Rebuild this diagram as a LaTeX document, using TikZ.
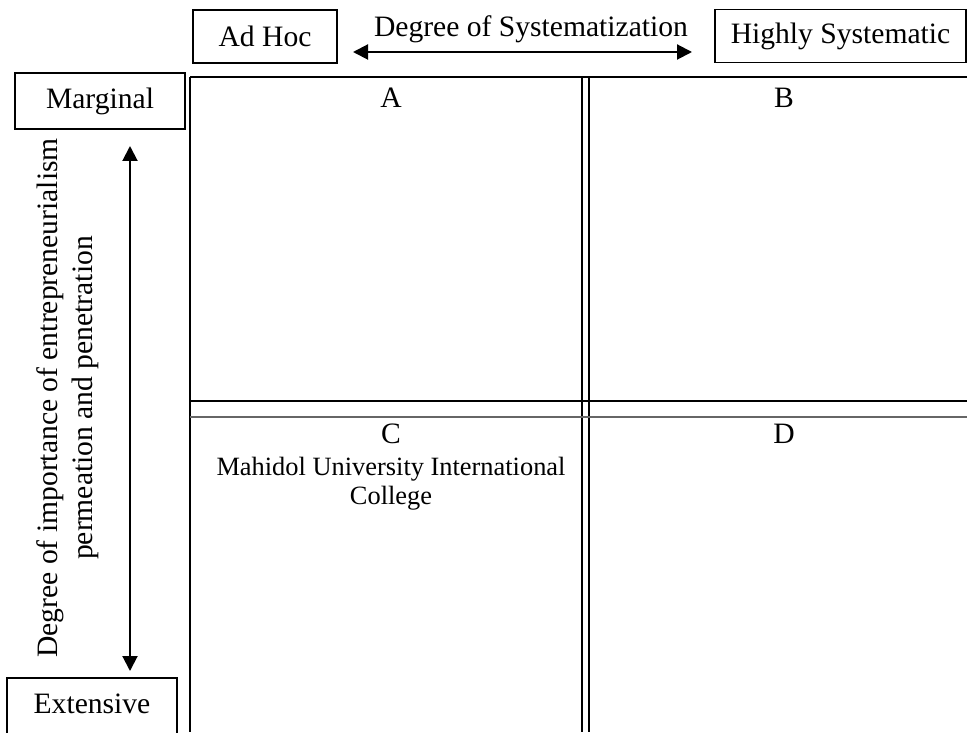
\documentclass[tikz,border=0pt]{standalone}
\usepackage{fontspec}
\setmainfont{Liberation Serif}
\usetikzlibrary{arrows.meta}

\begin{document}
\begin{tikzpicture}[x=0.5pt,y=-0.5pt,
		every node/.style={font=\fontsize{14.8}{14.5}\selectfont},
		endbox/.style={draw,line width=.65pt,inner sep=0pt,minimum height=#1},
		endbox/.default=26.5pt,
		axisarrow/.style={line width=1pt,{Triangle[length=7.5pt,width=7.5pt]}-{Triangle[length=7.5pt,width=7.5pt]}},
		sidetext/.style={rotate=90,anchor=base},
		heavy/.style={line width=1.35pt},
		light/.style={line width=.7pt}]
	\clip (0,0) rectangle (967,732); % khung hinh
	% truc ngang
	\node[endbox,minimum width=72pt] (adhoc) at (265,36.5) {Ad Hoc};
	\node[endbox,minimum width=125.5pt] (highsys) at (840.5,36) {Highly Systematic};
	\node[anchor=base] (sysdeg) at (531,37) {Degree of Systematization};
	\coordinate (sysL) at (353,52);
	\coordinate (sysR) at (692,52);
	\draw[axisarrow] (sysL) -- (sysR);
	% truc doc
	\node[endbox=28pt,minimum width=85pt] (marginal) at (100,101) {Marginal};
	\node[draw,line width=.65pt,inner xsep=0pt,inner ysep=0pt,text height=17.5pt,text depth=16pt,
		minimum width=85pt,anchor=base] (extensive) at (92,713) {Extensive};
	\coordinate (impT) at (130,146);
	\coordinate (impB) at (130,671);
	\draw[axisarrow] (impT) -- (impB);
	\node[sidetext] (impdeg) at (57,398) {Degree of importance of entrepreneurialism};
	\node[sidetext] (imppen) at (92,398) {permeation and penetration};
	% o luoi
	\draw[heavy] (190,77) -- (967,77); % canh tren
	\draw[heavy] (190,77) -- (190,732); % canh trai
	\draw[light] (582,77) -- (582,732);
	\draw[light] (589,77) -- (589,732);
	\draw[heavy] (190,401) -- (967,401);
	\draw[light,black!60] (190,417) -- (967,417);
	% nhan o
	\node[anchor=base] (cellA) at (391,108) {A};
	\node[anchor=base] (cellB) at (784,108) {B};
	\node[anchor=base] (cellC) at (391,443) {C};
	\node[anchor=base] (cellD) at (784,443) {D};
	\node[anchor=base,align=center,font=\fontsize{13.2}{14.5}\selectfont] (muic) at (391,504) {Mahidol University International\\College};
\end{tikzpicture}
\end{document}
